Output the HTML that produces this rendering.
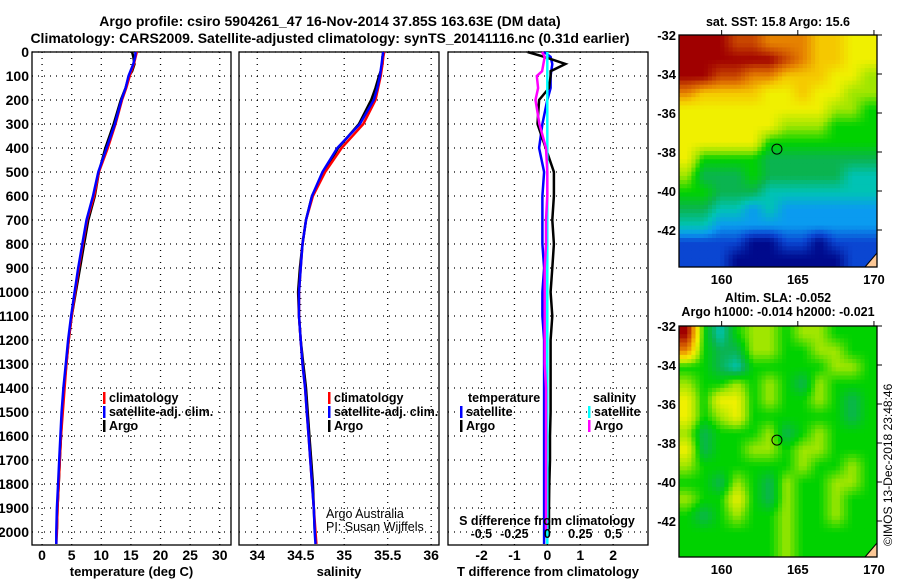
<!DOCTYPE html>
<html><head><meta charset="utf-8"><style>
body{margin:0;background:#fff}
svg text{font-family:"Liberation Sans",sans-serif}
.b{font-weight:bold}
</style></head><body>
<svg id="c" width="900" height="580" xmlns="http://www.w3.org/2000/svg">
<text x="330" y="26" text-anchor="middle" class="b" font-size="14">Argo profile: csiro 5904261_47 16-Nov-2014 37.85S 163.63E (DM data)</text>
<text x="330" y="43" text-anchor="middle" class="b" font-size="14">Climatology: CARS2009. Satellite-adjusted climatology: synTS_20141116.nc (0.31d earlier)</text>
<g id="g"></g>
</svg>
<script>
// ---- data ----
const depthTicks=[0,100,200,300,400,500,600,700,800,900,1000,1100,1200,1300,1400,1500,1600,1700,1800,1900,2000];
const depths=[0,20,50,100,150,200,300,400,500,600,700,800,900,1000,1100,1200,1300,1400,1500,1600,1700,1800,1900,2000,2050];
const tempClim=[16.0,15.8,15.5,14.8,14.2,13.5,12.4,11.1,9.6,8.8,7.6,6.9,6.2,5.6,5.0,4.5,4.1,3.8,3.5,3.2,3.0,2.8,2.6,2.5,2.4];
const tempSat=[15.8,15.7,15.4,14.6,14.1,13.4,12.3,10.9,9.5,8.6,7.5,6.8,6.1,5.5,4.9,4.4,4.0,3.6,3.3,3.1,2.9,2.7,2.5,2.4,2.4];
const argoDepths=[0,20,50,80,100,150,200,300,400,500,600,700,800,900,1000,1100,1200,1300,1400,1500,1600,1700,1800,1900,1990];
const tempArgo=[15.2,15.4,15.6,15.2,14.7,14.1,13.3,12.1,10.7,9.6,8.9,7.8,7.1,6.4,5.7,5.0,4.5,4.1,3.7,3.4,3.2,3.0,2.8,2.6,2.5];
const salClim=[35.46,35.45,35.44,35.42,35.39,35.36,35.22,34.97,34.78,34.64,34.56,34.52,34.50,34.48,34.48,34.50,34.52,34.55,34.57,34.59,34.61,34.63,34.65,34.67,34.68];
const salSat=[35.45,35.44,35.43,35.41,35.38,35.34,35.18,34.92,34.75,34.63,34.56,34.52,34.50,34.48,34.48,34.50,34.52,34.55,34.57,34.59,34.61,34.63,34.65,34.66,34.67];
const salArgo=[35.45,35.44,35.44,35.42,35.40,35.36,35.31,35.17,34.93,34.77,34.63,34.56,34.52,34.49,34.47,34.48,34.50,34.53,34.56,34.58,34.60,34.62,34.64,34.65,34.66];
const tDiffSat=[-0.1,0.1,0.15,0.1,0.1,0.0,-0.15,-0.25,-0.1,-0.15,-0.15,-0.15,-0.1,-0.15,-0.15,-0.1,-0.1,-0.1,-0.1,-0.1,-0.1,-0.1,-0.1,-0.1,-0.1];
const tDiffArgo=[-0.6,-0.1,0.55,0.1,0.1,0.05,-0.25,-0.3,-0.05,0.2,0.2,0.15,0.2,0.15,0.1,0.15,0.1,0.1,0.1,0.1,0.08,0.08,0.06,0.05,0.05];
const sDiffSat=[0.0,0.0,0.0,0.0,0.0,0.0,0.0,0.0,0.0,0.0,0.0,0.0,0.0,0.0,0.0,0.0,0.0,0.0,0.0,0.0,0.0,0.0,0.0,0.0,0.0];
const sDiffArgo=[-0.04,-0.02,-0.03,-0.04,-0.08,-0.07,-0.09,-0.06,-0.01,0.0,0.0,-0.01,-0.01,-0.02,-0.02,-0.02,-0.02,-0.02,-0.01,-0.01,-0.01,-0.01,-0.01,-0.01,-0.01];
const tempTicks=[0,5,10,15,20,25,30];
const salTicks=[34,34.5,35,35.5,36];
const tDiffTicks=[-2,-1,0,1,2];
const sDiffTicks=[-0.5,-0.25,0,0.25,0.5];
const lonTicks=[160,165,170];
const latTicks=[-32,-34,-36,-38,-40,-42];
const sstGrid=[
[11,11,11,10,10,9,9,9,8,8,7,7],[11,11,11,11,11,11,10,9,8,8,7,7],[11,11,10,10,9,9,8,8,8,7,7,6],
[9,8,8,8,8,7,7,8,7,7,6,6],[7,7,7,7,7,7,7,7,7,6,6,5],[7,7,7,7,7,7,6,6,6,5,5,5],
[7,7,7,7,7,5,5,5,5,5,5,5],[7,5,5,5,5,4,4,4,4,4,4,4],[6,4,4,4,5,4,4,4,4,4,3,3],
[5,5,4,4,4,3,3,3,3,3,3,3],[4,4,3,3,2,3,2,2,2,2,2,2],[3,3,2,2,2,2,2,2,2,2,2,2],
[1,1,1,1,0,0,1,1,0,1,1,1],[1,1,1,0,0,0,0,0,0,0,1,1]];
const slaGrid=[
[11,5,3,5,6,6,5,6,6,5,5,5],[9,5,4,4,6,6,5,5,6,6,5,5],[5,5,4,3,5,5,5,5,5,6,6,5],
[6,5,5,6,5,6,5,4,6,5,5,5],[7,5,7,7,5,6,5,5,6,5,4,5],[7,5,6,7,5,5,5,5,5,5,4,5],
[6,4,5,5,5,6,4,5,6,5,5,5],[7,4,5,5,6,6,5,6,6,5,5,5],[6,5,5,5,5,5,5,6,5,5,6,5],
[5,5,4,6,5,4,6,5,5,6,6,5],[6,5,5,7,5,4,6,5,5,6,5,5],[5,4,5,6,5,5,6,5,5,6,5,5],
[5,5,5,5,5,5,6,5,5,5,5,5],[5,5,5,5,5,5,6,5,5,5,5,5]];
const palette=["#000a8c","#0a46d2","#0a9bf0","#00c3b4","#0ab450","#00d200","#a0e600","#f0f000","#f5c800","#e68200","#c84600","#a00000"];
const floatLon=163.63, floatLat=-37.85;
// ---- helpers ----
const NS="http://www.w3.org/2000/svg", G=document.getElementById('g');
function mk(tag,at,txt){const e=document.createElementNS(NS,tag);for(const k in at)e.setAttribute(k,at[k]);if(txt!==undefined)e.textContent=txt;G.appendChild(e);return e;}
const Y0=52,Y1=545,dy=d=>Y0+d*0.24;
function panel(x0,x1,vmin,vmax,ticks,label,name,showY){
  const sx=v=>x0+(v-vmin)/(vmax-vmin)*(x1-x0);
  ticks.forEach(t=>{const l=mk('line',{x1:sx(t),x2:sx(t),y1:Y0,y2:Y1,stroke:'#000','stroke-dasharray':'1,5','stroke-width':1.3});
    
    if(label!==null){const tx=mk('text',{x:sx(t),y:560,'text-anchor':'middle','font-size':14,class:'b'},String(t));
    }});
  depthTicks.forEach(d=>{const l=mk('line',{x1:x0,x2:x1,y1:dy(d),y2:dy(d),stroke:'#000','stroke-dasharray':'1,5','stroke-width':1.3});
    
    if(showY){const tx=mk('text',{x:29,y:dy(d)+5,'text-anchor':'end','font-size':14,class:'b'},String(d));
    }});
  const r=mk('rect',{x:x0,y:Y0,width:x1-x0,height:Y1-Y0,fill:'none',stroke:'#000','stroke-width':1.3});
  
  if(label){const t=mk('text',{x:(x0+x1)/2,y:576,'text-anchor':'middle','font-size':13,class:'b'},label);
  }
  return sx;
}
function line(sx,ds,vals,color,name,w){
  const p=vals.map((v,i)=>sx(v).toFixed(1)+','+dy(ds[i]).toFixed(1)).join(' ');
  const l=mk('polyline',{points:p,fill:'none',stroke:color,'stroke-width':w||2.5});
  
}
function legend(x,y,items,name){
  items.forEach((it,i)=>{const r=mk('rect',{x:x,y:y+i*14-10,width:2.5,height:12,fill:it[1]});
    
    const t=mk('text',{x:x+6,y:y+i*14,'font-size':12.5,class:'b'},it[0]);
    });
}
// panel 1
let sx=panel(32,231,-1.7,31.9,tempTicks,'temperature (deg C)','temperature-panel',true);
line(sx,argoDepths,tempArgo,'#000','temp-argo-line');
line(sx,depths,tempClim,'#f00','temp-climatology-line');
line(sx,depths,tempSat,'#00f','temp-satellite-line');
legend(103,402,[['climatology','#f00'],['satellite-adj. clim.','#00f'],['Argo','#000']],'temp-legend');
// panel 2
sx=panel(239,439,33.79,36.09,salTicks,'salinity','salinity-panel',false);
line(sx,argoDepths,salArgo,'#000','sal-argo-line');
line(sx,depths,salClim,'#f00','sal-climatology-line');
line(sx,depths,salSat,'#00f','sal-satellite-line');
legend(328,402,[['climatology','#f00'],['satellite-adj. clim.','#00f'],['Argo','#000']],'sal-legend');
let t1=mk('text',{x:326,y:518,'font-size':12.5},'Argo Australia');
let t2=mk('text',{x:326,y:531,'font-size':12.5},'PI: Susan Wijffels');
// panel 3
sx=panel(448,648,-3.02,3.06,tDiffTicks,'T difference from climatology','difference-panel',false);
const ssx=v=>(sx(0)+v*132);
line(sx,depths,tDiffSat,'#00f','tdiff-satellite-line');
line(sx,argoDepths,tDiffArgo,'#000','tdiff-argo-line');
line(ssx,depths,sDiffSat,'#0ff','sdiff-satellite-line');
line(ssx,argoDepths,sDiffArgo,'#f0f','sdiff-argo-line');
sDiffTicks.forEach(t=>{const e=mk('text',{x:ssx(t),y:538,'text-anchor':'middle','font-size':12.5,class:'b'},String(t));
  });
let t3=mk('text',{x:547,y:525,'text-anchor':'middle','font-size':12.5,class:'b'},'S difference from climatology');
let t4=mk('text',{x:468,y:402,'font-size':12.5,class:'b'},'temperature');
let t5=mk('text',{x:593,y:402,'font-size':12.5,class:'b'},'salinity');
legend(460,416,[['satellite','#00f'],['Argo','#000']],'tdiff-legend');
legend(588,416,[['satellite','#0ff'],['Argo','#f0f']],'sdiff-legend');
// maps
function hex(c){return [1,3,5].map(i=>parseInt(c.substr(i,2),16));}
function colorAt(v){const i=Math.max(0,Math.min(palette.length-1.001,v));const a=hex(palette[Math.floor(i)]),b=hex(palette[Math.floor(i)+1]),f=i-Math.floor(i);
  return 'rgb('+a.map((x,k)=>Math.round(x+(b[k]-x)*f)).join(',')+')';}
function sample(grid,fr,fc){const R=grid.length,C=grid[0].length;
  const r=Math.max(0,Math.min(R-1,fr-0.5)),c=Math.max(0,Math.min(C-1,fc-0.5));
  const r0=Math.floor(r),c0=Math.floor(c),r1=Math.min(R-1,r0+1),c1=Math.min(C-1,c0+1),a=r-r0,b=c-c0;
  return grid[r0][c0]*(1-a)*(1-b)+grid[r0][c1]*(1-a)*b+grid[r1][c0]*a*(1-b)+grid[r1][c1]*a*b;}
function map(y0,y1,grid,name){
  const x0=679,x1=877,lonMin=157.2,lonMax=170.2,latMax=-32,latMin=-32-(y1-y0)/19.5;
  const lx=v=>x0+(v-lonMin)/(lonMax-lonMin)*(x1-x0), ly=v=>y0+(latMax-v)/(latMax-latMin)*(y1-y0);
  const rows=grid.length,cols=grid[0].length,N=4;
  const cw=(x1-x0)/(cols*N),ch=(y1-y0)/(rows*N);
  for(let r=0;r<rows*N;r++)for(let c=0;c<cols*N;c++){
    const v=sample(grid,(r+0.5)/N,(c+0.5)/N);
    const e=mk('rect',{x:(x0+c*cw).toFixed(2),y:(y0+r*ch).toFixed(2),width:(cw+0.4).toFixed(2),height:(ch+0.4).toFixed(2),fill:colorAt(v)});
    }
  const land=mk('path',{d:`M${x1-12},${y1} L${x1},${y1-14} L${x1},${y1} Z`,fill:'#fcc896',stroke:'#000','stroke-width':1});
  
  const ci=mk('circle',{cx:lx(floatLon),cy:ly(floatLat),r:5,fill:'none',stroke:'#000','stroke-width':1});
  
  const fr=mk('rect',{x:x0,y:y0,width:x1-x0,height:y1-y0,fill:'none',stroke:'#000','stroke-width':1.3});
  
  lonTicks.forEach(t=>{const l=mk('line',{x1:lx(t),x2:lx(t),y1:y0-5,y2:y0,stroke:'#000'});
    const e=mk('text',{x:lx(t),y:y1+17,'text-anchor':'middle','font-size':13,class:'b'},String(t));});
  latTicks.forEach(t=>{const l=mk('line',{x1:x1,x2:x1+5,y1:ly(t),y2:ly(t),stroke:'#000'});
    const e=mk('text',{x:676,y:ly(t)+5,'text-anchor':'end','font-size':13,class:'b'},String(t));});
}
map(35,267,sstGrid,'sst-map');
map(326,557,slaGrid,'sla-map');
let m1=mk('text',{x:778,y:26,'text-anchor':'middle','font-size':12.5,class:'b'},'sat. SST: 15.8 Argo: 15.6');
let m2=mk('text',{x:778,y:302,'text-anchor':'middle','font-size':12.5,class:'b'},'Altim. SLA: -0.052');
let m3=mk('text',{x:778,y:316,'text-anchor':'middle','font-size':12.5,class:'b'},'Argo h1000: -0.014 h2000: -0.021');
let cp=mk('text',{x:0,y:0,'font-size':12,transform:'translate(892,546) rotate(-90)'},'©IMOS 13-Dec-2018 23:48:46');
</script>
</body></html>
